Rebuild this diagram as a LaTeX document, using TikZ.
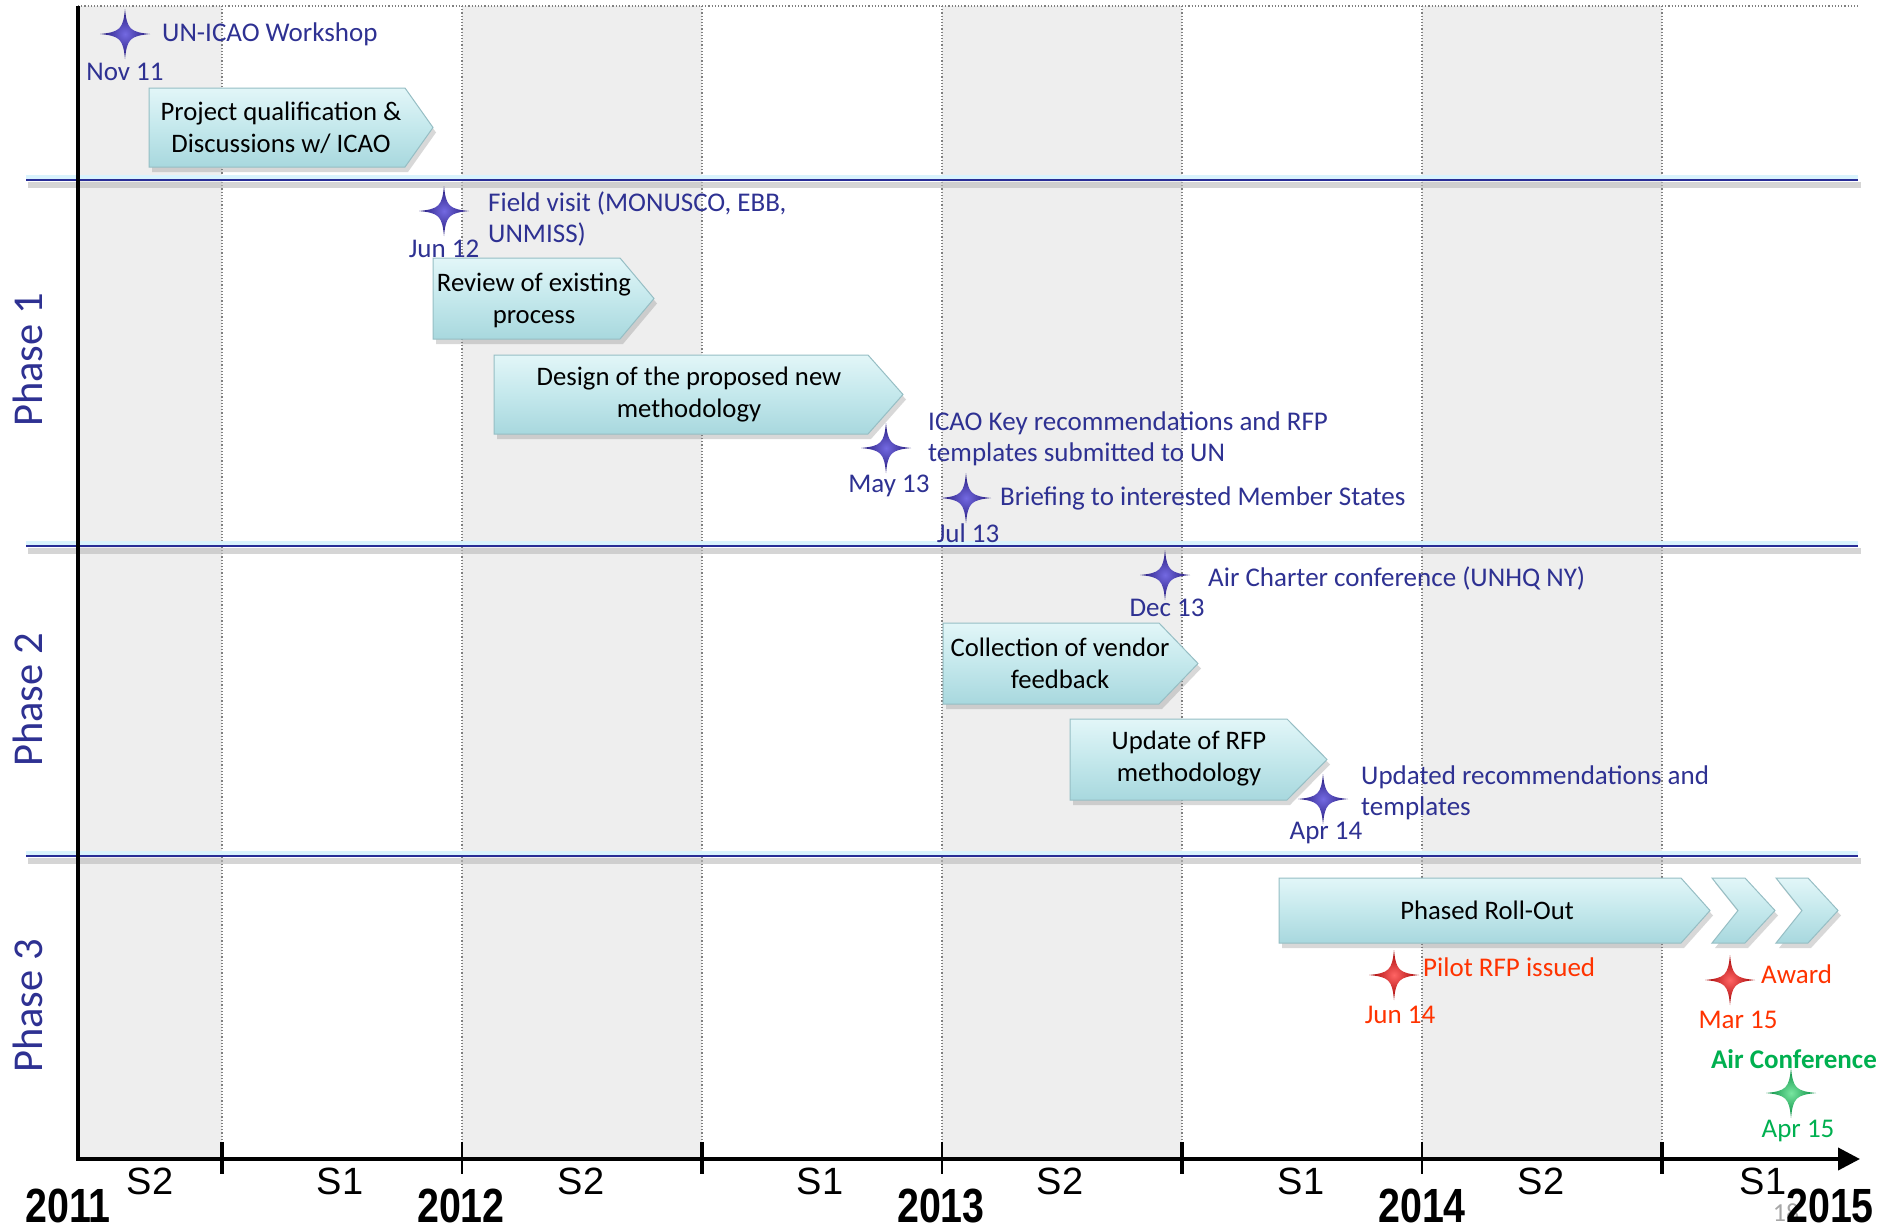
\documentclass[tikz,border=0pt]{standalone}
\usepackage{fontspec}
\setmainfont{Carlito}
\newfontfamily\axisfont{Liberation Sans}
\newfontfamily\yearfont[FakeStretch=0.82]{Liberation Sans}
\usetikzlibrary{arrows.meta,shadows}
\definecolor{evblue}{RGB}{46,49,146}
\definecolor{evred}{RGB}{255,51,0}
\definecolor{evgreen}{RGB}{0,176,80}
\definecolor{band}{RGB}{238,238,238}
\definecolor{boxtop}{RGB}{226,246,248}
\definecolor{boxmid}{RGB}{196,232,236}
\definecolor{boxbot}{RGB}{168,216,222}
\definecolor{boxedge}{RGB}{150,190,196}
\definecolor{sepblue}{RGB}{40,45,150}
\definecolor{starblueA}{RGB}{115,105,225}
\definecolor{starblueB}{RGB}{35,25,120}
\definecolor{starredA}{RGB}{255,100,100}
\definecolor{starredB}{RGB}{160,0,0}
\definecolor{stargreenA}{RGB}{120,230,160}
\definecolor{stargreenB}{RGB}{0,135,60}
\tikzset{
  evtext/.style={text=evblue, font=\fontsize{27}{31.5}\selectfont, inner sep=0pt, align=left, anchor=west},
  datetext/.style={text=evblue, font=\fontsize{27}{31.5}\selectfont, inner sep=0pt},
  boxtext/.style={font=\fontsize{26.7}{32}\selectfont, align=center, inner sep=0pt, text=black},
  boxshape/.style={top color=boxtop, bottom color=boxbot, middle color=boxmid, draw=boxedge, line width=1pt,
     drop shadow={shadow xshift=3pt, shadow yshift=-5pt, opacity=0.3, fill=gray}},
  phasetext/.style={text=evblue, font=\fontsize{42.5}{42.5}\selectfont, rotate=90, inner sep=0pt},
  semtext/.style={font=\axisfont\fontsize{38}{38}\selectfont, anchor=base, inner sep=0pt},
  yeartext/.style={font=\yearfont\bfseries\fontsize{48}{48}\selectfont, anchor=base, inner sep=0pt},
  gridline/.style={gray, dotted, line width=1.2pt},
  sepline/.style={sepblue, line width=2.5pt},
  sepshadow/.style={gray!55, line width=6pt, opacity=0.6},
  sepglow/.style={cyan!15, line width=5pt},
}
\newcommand{\sparkle}[4]{%
  \coordinate (#1) at (#2);
  \shade[inner color=#3, outer color=#4, shift={(#2)}]
    (0,-25) .. controls (2,-5) and (5,-2) .. (25,0)
    .. controls (5,2) and (2,5) .. (0,25)
    .. controls (-2,5) and (-5,2) .. (-25,0)
    .. controls (-5,-2) and (-2,-5) .. (0,-25) -- cycle;
}
\newcommand{\arrowshape}[5]{% left, top, bottom, shoulder, tip
  \path[boxshape] (#1,#2) -- (#4,#2) -- (#5,{(#2+#3)/2}) -- (#4,#3) -- (#1,#3) -- cycle;
}
\newcommand{\chevronshape}[6]{% left, notch, top, bottom, shoulder, tip
  \path[boxshape] (#1,#3) -- (#5,#3) -- (#6,{(#3+#4)/2}) -- (#5,#4) -- (#1,#4) -- (#2,{(#3+#4)/2}) -- cycle;
}
\begin{document}
\begin{tikzpicture}[x=1pt,y=-1pt]
\useasboundingbox (0,0) rectangle (1883,1229);
\fill[white] (0,0) rectangle (1883,1229);
% shaded semesters
\fill[band] (78,6) rectangle (222,1159);
\fill[band] (462,6) rectangle (702,1159);
\fill[band] (942,6) rectangle (1182,1159);
\fill[band] (1422,6) rectangle (1662,1159);
% grid
\draw[gridline] (78,6) -- (1858,6);
\foreach \gx in {222,462,702,942,1182,1422,1662} {\draw[gridline] (\gx,6) -- (\gx,1159);}
% phase separators
\foreach \sy in {180,546,856} {
  \draw[sepglow] (26,\sy-3) -- (1858,\sy-3);
  \draw[sepshadow] (28,\sy+5) -- (1861,\sy+5);
  \draw[sepline] (26,\sy) -- (1858,\sy);
}
% axes
\draw[line width=4pt] (78,6) -- (78,1161);
\draw[line width=4pt, -{Triangle[length=22pt,width=22pt]}] (76,1159) -- (1860,1159);
\foreach \tx in {222,702,1182,1662} {\draw[line width=4pt] (\tx,1142) -- (\tx,1174);}
\foreach \tx in {462,942,1422} {\draw[line width=2pt] (\tx,1142) -- (\tx,1174);}
% semester labels
\node[semtext] (s1) at (150,1194) {S2};
\node[semtext] (s2) at (340,1194) {S1};
\node[semtext] (s3) at (581,1194) {S2};
\node[semtext] (s4) at (820,1194) {S1};
\node[semtext] (s5) at (1060,1194) {S2};
\node[semtext] (s6) at (1301,1194) {S1};
\node[semtext] (s7) at (1541,1194) {S2};
\node[semtext] (s8) at (1763,1194) {S1};
% page number
\node[text=gray!70, font=\fontsize{26}{26}\selectfont, inner sep=0pt] (pg) at (1786,1213) {18};
% years
\node[yeartext] (y11) at (68,1222) {2011};
\node[yeartext] (y12) at (461,1222) {2012};
\node[yeartext] (y13) at (941,1222) {2013};
\node[yeartext] (y14) at (1422,1222) {2014};
\node[yeartext] (y15) at (1830,1222) {2015};
% phase labels
\node[phasetext] (ph1) at (28,360) {Phase 1};
\node[phasetext] (ph2) at (28,700) {Phase 2};
\node[phasetext] (ph3) at (28,1006) {Phase 3};
% activity arrows
\arrowshape{149}{88}{167}{405}{433}
\node[boxtext] (b1) at (281,128) {Project qualification \&\\Discussions w/ ICAO};
\arrowshape{433}{258}{339}{620}{654}
\node[boxtext] (b2) at (534,300) {Review of existing\\process};
\arrowshape{494}{355}{434}{868}{903}
\node[boxtext] (b3) at (689,395) {Design of the proposed new\\methodology};
\arrowshape{943}{623}{704}{1159}{1198}
\node[boxtext] (b4) at (1060,663) {Collection of vendor\\feedback};
\arrowshape{1070}{719}{800}{1287}{1327}
\node[boxtext] (b5) at (1189,759) {Update of RFP\\methodology};
\arrowshape{1279}{878}{943}{1681}{1710}
\node[boxtext] (b6) at (1487,910) {Phased Roll-Out};
\chevronshape{1712}{1738}{878}{943}{1745}{1775}
\chevronshape{1776}{1802}{878}{943}{1808}{1838}
% milestones
\sparkle{m1}{125,34}{starblueA}{starblueB}
\node[datetext] (d1) at (125,72) {Nov 11};
\node[evtext] (e1) at (162,34) {UN-ICAO Workshop};
\sparkle{m2}{444,211}{starblueA}{starblueB}
\node[datetext] (d2) at (444,249) {Jun 12};
\node[evtext] (e2) at (488,219) {Field visit (MONUSCO, EBB,\\UNMISS)};
\sparkle{m3}{886,448}{starblueA}{starblueB}
\node[datetext] (d3) at (889,486) {May 13};
\node[evtext] (e3) at (928,439) {ICAO Key recommendations and RFP\\templates submitted to UN};
\sparkle{m4}{966,498}{starblueA}{starblueB}
\node[datetext] (d4) at (968,533) {Jul 13};
\node[evtext] (e4) at (1000,498) {Briefing to interested Member States};
\sparkle{m5}{1165,575}{starblueA}{starblueB}
\node[datetext] (d5) at (1167,608) {Dec 13};
\node[evtext] (e5) at (1208,578) {Air Charter conference (UNHQ NY)};
\sparkle{m6}{1323,799}{starblueA}{starblueB}
\node[datetext] (d6) at (1326,833) {Apr 14};
\node[evtext] (e6) at (1361,793) {Updated recommendations and\\templates};
\sparkle{m7}{1394,975}{starredA}{starredB}
\node[datetext, text=evred] (d7) at (1400,1015) {Jun 14};
\node[evtext, text=evred] (e7) at (1423,967) {Pilot RFP issued};
\sparkle{m8}{1730,980}{starredA}{starredB}
\node[datetext, text=evred] (d8) at (1738,1020) {Mar 15};
\node[evtext, text=evred] (e8) at (1761,974) {Award};
\sparkle{m9}{1791,1093}{stargreenA}{stargreenB}
\node[datetext, text=evgreen] (d9) at (1798,1131) {Apr 15};
\node[datetext, text=evgreen, font=\bfseries\fontsize{27}{31.5}\selectfont] (e9) at (1794,1059) {Air Conference};
\end{tikzpicture}
\end{document}
